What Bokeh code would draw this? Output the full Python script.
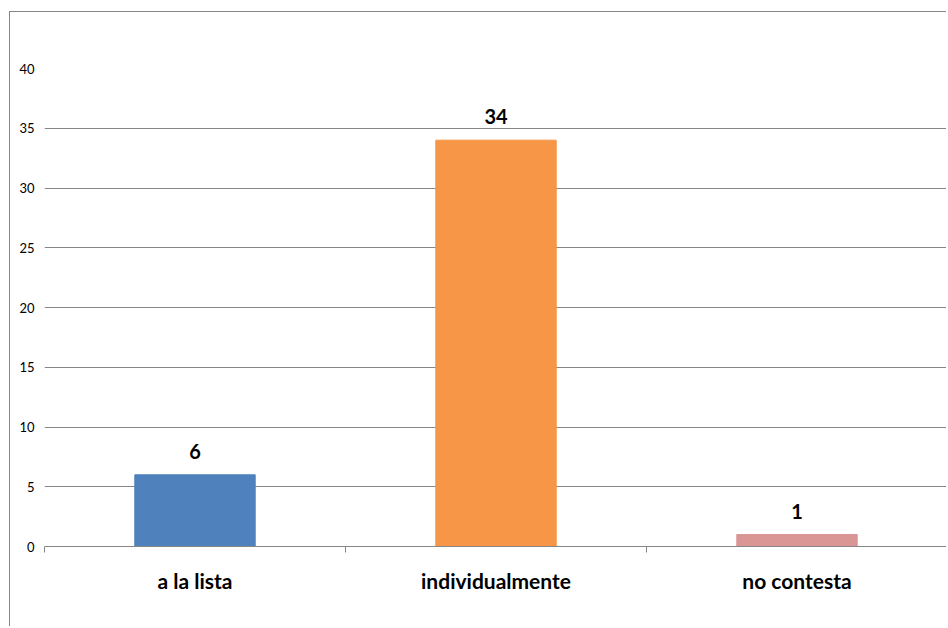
from bokeh.plotting import figure
from bokeh.models import ColumnDataSource, FixedTicker, Range1d
from bokeh.core.properties import value
from bokeh.embed import file_html
from bokeh.resources import INLINE

categories = ["a la lista", "individualmente", "no contesta"]
counts = [6, 34, 1]
colors = ["#4F81BD", "#F79646", "#D99694"]
y_ticks = [0, 5, 10, 15, 20, 25, 30, 35, 40]

xs = [i + 0.5 for i in range(len(categories))]
src = ColumnDataSource(dict(x=xs, top=counts, color=colors,
                            label=[str(c) for c in counts]))

p = figure(width=937, height=615, output_backend="svg", toolbar_location=None,
           x_range=Range1d(0, len(categories)), y_range=Range1d(0, 40),
           min_border_left=34, min_border_right=0, min_border_top=56,
           min_border_bottom=81, margin=(11, 0, 0, 9),
           styles={"border-left": "1px solid #868686", "border-top": "1px solid #868686"})
p.outline_line_color = None
p.background_fill_color = "white"

p.vbar(x="x", top="top", width=0.4, color="color", source=src)
p.text(x="x", y="top", text="label", source=src, text_align="center",
       text_baseline="bottom", y_offset=-16, text_font=value("Lato"),
       text_font_style="bold", text_font_size="20px", text_color="black")

# x axis
p.xaxis.ticker = FixedTicker(ticks=xs, minor_ticks=list(range(len(categories) + 1)))
p.xaxis.major_label_overrides = {x: c for x, c in zip(xs, categories)}
p.xaxis.major_tick_line_color = None
p.xaxis.major_tick_in = 0
p.xaxis.major_tick_out = 0
p.xaxis.minor_tick_in = 0
p.xaxis.minor_tick_out = 6
p.xaxis.minor_tick_line_color = "#868686"
p.xaxis.axis_line_color = "#868686"
p.xaxis.major_label_text_font = "Lato"
p.xaxis.major_label_text_font_style = "bold"
p.xaxis.major_label_text_font_size = "21px"
p.xaxis.major_label_text_color = "black"
p.xaxis.major_label_standoff = 15
p.xgrid.grid_line_color = None

# y axis
p.yaxis.ticker = FixedTicker(ticks=y_ticks)
p.yaxis.axis_line_color = None
p.yaxis.major_tick_line_color = None
p.yaxis.major_tick_in = 0
p.yaxis.major_tick_out = 0
p.yaxis.minor_tick_line_color = None
p.yaxis.major_label_text_font = "Lato"
p.yaxis.major_label_text_font_size = "13px"
p.yaxis.major_label_text_color = "black"
p.yaxis.major_label_standoff = 10
p.ygrid.grid_line_color = "#868686"

open("out.html", "w").write(file_html(p, INLINE))
